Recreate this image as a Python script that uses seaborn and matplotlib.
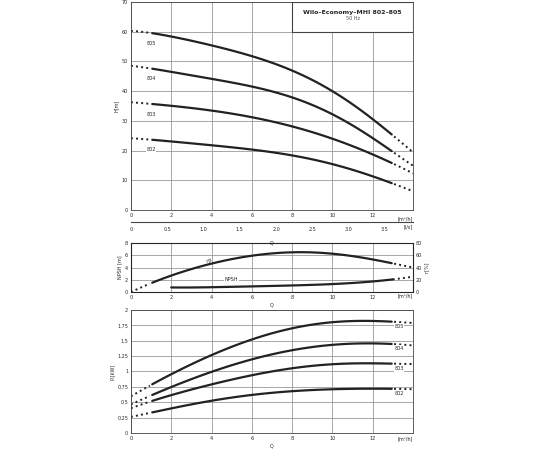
import numpy as np
import pandas as pd
import matplotlib
matplotlib.use("Agg")
import matplotlib.pyplot as plt
import seaborn as sb

sb.set_style("white")
plt.rcParams['font.family'] = ['DejaVu Sans']

# данные
q = [0, 1, 4, 6, 8, 10, 12, 13, 14]
h_805 = [60.3, 59.4, 55.5, 51.7, 46.7, 40.2, 30.5, 25.0, 19.5]
h_804 = [48.6, 47.4, 44.4, 41.3, 37.8, 32.4, 24.2, 19.4, 15.0]
h_803 = [36.3, 35.6, 33.6, 31.1, 28.1, 24.1, 18.7, 15.6, 12.4]
h_802 = [24.2, 23.6, 21.9, 20.3, 18.3, 15.6, 11.3, 8.9, 6.4]

q_eta = [0, 1, 2, 4, 6, 8, 10, 12, 13, 14]
eta = [0, 14, 27, 47, 58, 66, 62, 53, 47, 40]
q_npsh = [2, 4, 6, 8, 10, 12, 13, 14]
npsh = [0.75, 0.8, 0.9, 1.1, 1.3, 1.7, 2.1, 2.5]

q_p = [0, 1, 2, 4, 6, 8, 10, 11, 12, 13, 14]
p_805 = [0.60, 0.76, 0.98, 1.25, 1.53, 1.70, 1.80, 1.825, 1.82, 1.81, 1.79]
p_804 = [0.46, 0.62, 0.74, 0.99, 1.20, 1.35, 1.43, 1.45, 1.455, 1.455, 1.42]
p_803 = [0.40, 0.52, 0.61, 0.79, 0.94, 1.05, 1.12, 1.13, 1.13, 1.13, 1.12]
p_802 = [0.26, 0.33, 0.40, 0.52, 0.62, 0.68, 0.71, 0.715, 0.72, 0.72, 0.71]

models = ['805', '804', '803', '802']
fs = 3.5


def smooth(x, y, n=120):
    xs = np.linspace(min(x), max(x), n)
    coef = np.polyfit(x, y, min(5, len(x) - 1))
    return xs, np.polyval(coef, xs)


def curve(ax, x, y, solid=(1, 13)):
    xs, ys = smooth(x, y)
    df = pd.DataFrame({'Q': xs, 'v': ys})
    mid = df[(df.Q >= solid[0]) & (df.Q <= solid[1])]
    sb.lineplot(data=mid, x='Q', y='v', ax=ax, color='#222', lw=1.6)
    lo = df[df.Q <= solid[0] + 0.05]
    hi = df[df.Q >= solid[1] - 0.05]
    for part in (lo, hi):
        if len(part) > 1:
            sb.lineplot(data=part, x='Q', y='v', ax=ax, color='#222', lw=1.4, linestyle=':')


def style(ax, ymax, ystep, yfmt=None):
    ax.set_xlim(0, 14)
    ax.set_ylim(0, ymax)
    ax.set_xticks(np.arange(0, 14, 2))
    ax.set_yticks(np.arange(0, ymax + 1e-9, ystep))
    if yfmt:
        ax.set_yticklabels(yfmt)
    ax.grid(True, color='#999', lw=0.6)
    ax.tick_params(labelsize=fs, length=0, pad=2)
    for s in ax.spines.values():
        s.set_color('#444')
        s.set_linewidth(0.6)
    ax.text(1.0, -0.03, '[m³/h]', transform=ax.transAxes, fontsize=fs, ha='right', va='top')
    ax.set_xlabel('Q', fontsize=fs, labelpad=2)


fig = plt.figure(figsize=(5.5, 4.5), dpi=100)
ax1 = fig.add_axes([0.238, 0.533, 0.513, 0.463])
ax2 = fig.add_axes([0.238, 0.351, 0.513, 0.109])
ax3 = fig.add_axes([0.238, 0.038, 0.513, 0.273])

# H(Q)
for m, h in zip(models, [h_805, h_804, h_803, h_802]):
    curve(ax1, q, h)
    ax1.text(1.0, h[1] - 3.3, m, fontsize=fs, ha='center', va='center',
             bbox=dict(fc='white', ec='none', pad=0.5))
style(ax1, 70, 10)
ax1.set_xlabel('')
ax1.set_ylabel('H[m]', fontsize=fs, labelpad=2)
ax1.add_patch(plt.Rectangle((8, 60), 6, 10, fc='white', ec='#444', lw=0.8, zorder=3))
ax1.text(11, 66, 'Wilo–Economy–MHI 802–805', fontsize=4.5, weight='bold', ha='center', zorder=4)
ax1.text(11, 64, '50 Hz', fontsize=fs, ha='center', color='#555', zorder=4)

# ось л/с
ls = fig.add_axes([0.238, 0.505, 0.513, 0.001])
ls.set_xlim(0, 14 / 3.6)
ls.set_xticks(np.arange(0, 3.6, 0.5))
ls.set_xticklabels(['0', '0.5', '1.0', '1.5', '2.0', '2.5', '3.0', '3.5'])
ls.set_yticks([])
for k in ('left', 'right', 'bottom'):
    ls.spines[k].set_visible(False)
ls.spines['top'].set_color('#444')
ls.tick_params(labelsize=fs, length=0, pad=3)
ls.text(1.0, -3, '[l/s]', transform=ls.transAxes, fontsize=fs, ha='right', va='top')
ls.set_xlabel('Q', fontsize=fs, labelpad=6)

# NPSH и КПД
ax2r = ax2.twinx()
curve(ax2r, q_eta, eta)
curve(ax2, q_npsh, npsh, solid=(2, 13))
style(ax2, 8, 2)
ax2r.set_ylim(0, 80)
ax2r.set_yticks(np.arange(0, 81, 20))
ax2r.tick_params(labelsize=fs, length=0, pad=2)
ax2r.set_ylabel('η[%]', fontsize=fs, labelpad=2)
ax2r.grid(False)
ax2.set_ylabel('NPSH [m]', fontsize=fs, labelpad=2)
ax2.text(3.7, 4.8, 'ηp', fontsize=fs, rotation=25)
ax2.text(5.0, 2.0, 'NPSH', fontsize=fs, ha='center', va='center',
         bbox=dict(fc='white', ec='none', pad=0.5))

# P1(Q)
for m, p in zip(models, [p_805, p_804, p_803, p_802]):
    curve(ax3, q_p, p)
    ax3.text(13.3, p[-2] - 0.08, m, fontsize=fs, ha='center', va='center',
             bbox=dict(fc='white', ec='none', pad=0.5))
style(ax3, 2, 0.25, ['0', '0,25', '0,5', '0,75', '1', '1,25', '1,5', '1,75', '2'])
ax3.set_ylabel('P₁[kW]', fontsize=fs, labelpad=2)

fig.savefig('out.png', dpi=100)
